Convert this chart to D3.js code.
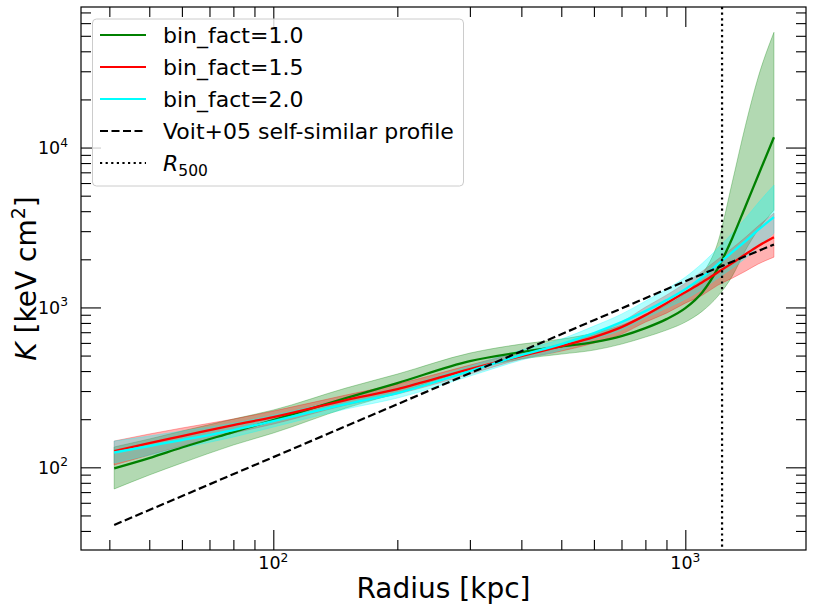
<!DOCTYPE html>
<html><head><meta charset="utf-8">
<script src="https://cdn.jsdelivr.net/npm/d3@7"></script>
<style>body{margin:0;background:#fff} text{font-family:"DejaVu Sans",sans-serif;fill:#000}</style>
</head><body><svg id="c" width="813" height="613"></svg>
<script>
// ---- data ----
const radius = [41.1,50,60,80,100,150,200,300,400,500,600,700,800,900,1000,1100,1200,1300,1400,1500,1641];

const k10    = [98.6,114.3,133,166.2,197.5,271.1,336.4,461.8,525.6,568.9,607,661.6,742.4,845.3,989.9,1246,1761,2711,4297,6616,11600];
const k10Hi  = [134,150.3,168.6,200.4,228.2,313.1,382.9,518.1,589.8,633.7,691,775,895.1,1034,1228,1615,2559,6069,13790,27110,52560];
const k10Lo  = [73.2,89.5,106.4,137.9,163.8,234.8,291.3,405.6,475.3,510.7,540.9,589.8,652.3,721.3,809.4,948.2,1177,1569,2281,3041,4056];

const k15    = [126.5,141.9,156.9,183.8,206.3,263.4,308.6,411.6,496.2,573.1,652.3,753.2,895.1,1064,1246,1439,1662,1892,2153,2416,2750];
const k15Hi  = [146,161.5,176.1,200.4,224.9,283.1,331.6,435.9,525.6,589.8,681,809.4,1004,1194,1419,1686,2004,2348,2750,3222,3886];
const k15Lo  = [103.4,119.4,135.9,163.8,186.4,245.2,287.1,382.9,475.3,533.3,598.4,681,809.4,921,1064,1194,1379,1524,1686,1865,2063];

const k20    = [123.8,135.9,148.1,171.1,194.7,248.7,291.3,399.8,503.4,589.8,691,809.4,948.2,1111,1301,1546,1865,2216,2596,3041,3668];
const k20Hi  = [146,156.9,168.6,189.2,212.3,267.3,313.1,429.6,540.9,633.7,764.1,908,1095,1301,1546,1892,2348,2913,3615,4486,5814];
const k20Lo  = [106.4,119.4,132,154.7,178.6,231.4,271.1,372.1,468.4,540.9,633.7,721.3,857.5,989.9,1127,1301,1524,1761,2033,2382,2913];

const voitR = [41.1,100,300,1000,1641];
const voitK = [43.6,115.8,387.6,1460,2476];
const r500 = 1228;

const seriesNames  = ["bin_fact=1.0","bin_fact=1.5","bin_fact=2.0"];
const seriesColors = ["#008000","#ff0000","#00ffff"];

const xMajor = [100,1000];
const xMinor = [40,50,60,70,80,90,200,300,400,500,600,700,800,900];
const yMajor = [100,1000,10000];
const yMinor = [40,50,60,70,80,90,200,300,400,500,600,700,800,900,2000,3000,4000,5000,6000,7000,8000,9000,20000,30000,40000,50000,60000,70000];
const xTickLabels = ["2","3"];
const yTickLabels = ["2","3","4"];

// ---- layout ----
const L=81, R=806, T=7, B=550;
const svg = d3.select("#c");
const x = d3.scaleLog().domain([34.14,1963]).range([L,R]);
const y = d3.scaleLog().domain([30.4,75700]).range([B,T]);

const plot = svg.append("g");
plot.append("defs").append("clipPath").attr("id","clip")
  .append("rect").attr("x",L).attr("y",T).attr("width",R-L).attr("height",B-T);
const g = plot.append("g").attr("clip-path","url(#clip)");

const sets = [[k10,k10Lo,k10Hi],[k15,k15Lo,k15Hi],[k20,k20Lo,k20Hi]];
const rowsAll = sets.map(s=>radius.map((r,j)=>({r, m:s[0][j], lo:s[1][j], hi:s[2][j]})));
rowsAll.forEach((rows,i)=>{
  g.append("path").datum(rows)
    .attr("d", d3.area().curve(d3.curveMonotoneX).x(d=>x(d.r)).y0(d=>y(d.lo)).y1(d=>y(d.hi)))
    .attr("fill", seriesColors[i]).attr("fill-opacity",0.3).attr("stroke",seriesColors[i]).attr("stroke-opacity",0.3).attr("stroke-width",1);
});
rowsAll.forEach((rows,i)=>{
  g.append("path").datum(rows)
    .attr("d", d3.line().curve(d3.curveMonotoneX).x(d=>x(d.r)).y(d=>y(d.m)))
    .attr("fill","none").attr("stroke",seriesColors[i]).attr("stroke-width",2.3);
});

g.append("path").datum(voitR.map((r,j)=>[r,voitK[j]]))
  .attr("d", d3.line().x(d=>x(d[0])).y(d=>y(d[1])))
  .attr("fill","none").attr("stroke","#000").attr("stroke-width",2.2).attr("stroke-dasharray","8,3.5");

g.append("line").attr("x1",x(r500)).attr("x2",x(r500)).attr("y1",T).attr("y2",B)
  .attr("stroke","#000").attr("stroke-width",2.2).attr("stroke-dasharray","2.2,3.4");

// ---- axes (ticks inward on all sides) ----
function ax(gen, tx, ty){ const a=svg.append("g").attr("transform",`translate(${tx},${ty})`).call(gen); a.select(".domain").remove(); a.selectAll("line").attr("stroke","#000").attr("stroke-width",1.1); return a; }
ax(d3.axisBottom(x).tickValues(xMinor).tickSize(-10).tickFormat(""),0,B);
ax(d3.axisBottom(x).tickValues(xMajor).tickSize(-20).tickFormat(""),0,B);
ax(d3.axisTop(x).tickValues(xMinor).tickSize(-10).tickFormat(""),0,T);
ax(d3.axisTop(x).tickValues(xMajor).tickSize(-20).tickFormat(""),0,T);
ax(d3.axisLeft(y).tickValues(yMinor).tickSize(-10).tickFormat(""),L,0);
ax(d3.axisLeft(y).tickValues(yMajor).tickSize(-20).tickFormat(""),L,0);
ax(d3.axisRight(y).tickValues(yMinor).tickSize(-10).tickFormat(""),R,0);
ax(d3.axisRight(y).tickValues(yMajor).tickSize(-20).tickFormat(""),R,0);

svg.append("rect").attr("x",L).attr("y",T).attr("width",R-L).attr("height",B-T)
  .attr("fill","none").attr("stroke","#000").attr("stroke-width",1.2);

// tick labels
const fs=17.5;
xMajor.forEach((v,i)=>{
  const t=svg.append("text").attr("x",x(v)).attr("y",569).attr("text-anchor","middle").attr("font-size",fs);
  t.append("tspan").text("10");
  t.append("tspan").attr("font-size",fs*0.7).attr("dy",-7.5).text(xTickLabels[i]);
});
yMajor.forEach((v,i)=>{
  const t=svg.append("text").attr("x",68).attr("y",y(v)+6.5).attr("text-anchor","end").attr("font-size",fs);
  t.append("tspan").text("10");
  t.append("tspan").attr("font-size",fs*0.7).attr("dy",-7.5).text(yTickLabels[i]);
});

// axis labels
svg.append("text").attr("x",(L+R)/2).attr("y",598).attr("text-anchor","middle").attr("font-size",28).text("Radius [kpc]");
const yl=svg.append("text").attr("transform",`translate(36,${(T+B)/2}) rotate(-90)`).attr("text-anchor","middle").attr("font-size",28);
yl.append("tspan").attr("font-style","italic").text("K");
yl.append("tspan").text(" [keV cm");
yl.append("tspan").attr("font-size",19).attr("dy",-11).text("2");
yl.append("tspan").attr("dy",11).text("]");

// legend
const lg=svg.append("g");
lg.append("rect").attr("x",92.5).attr("y",19).attr("width",371).attr("height",167).attr("rx",4)
  .attr("fill","#fff").attr("fill-opacity",0.8).attr("stroke","#cccccc").attr("stroke-width",1);
const items=[
  {label:seriesNames[0],color:seriesColors[0],dash:null},
  {label:seriesNames[1],color:seriesColors[1],dash:null},
  {label:seriesNames[2],color:seriesColors[2],dash:null},
  {label:"Voit+05 self-similar profile",color:"#000",dash:"8,3.5"},
  {label:"R500",color:"#000",dash:"2.2,3.4"}
];
items.forEach((it,i)=>{
  const cy=35+i*32;
  lg.append("line").attr("x1",100).attr("x2",146).attr("y1",cy).attr("y2",cy)
    .attr("stroke",it.color).attr("stroke-width",2.2).attr("stroke-dasharray",it.dash);
  const t=lg.append("text").attr("x",163).attr("y",cy+8).attr("font-size",22);
  if(it.label==="R500"){
    t.append("tspan").attr("font-style","italic").text("R");
    t.append("tspan").attr("font-size",15.5).attr("dy",5).text("500");
  } else t.text(it.label);
});
</script></body></html>
